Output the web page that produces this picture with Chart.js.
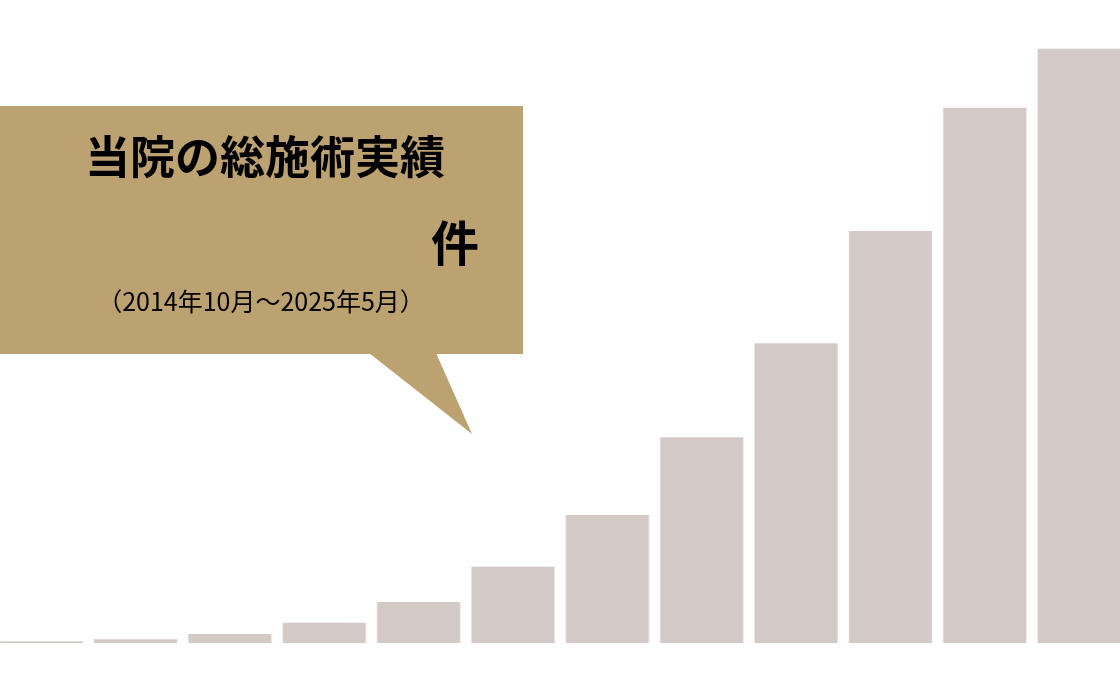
<!DOCTYPE html>
<html lang="ja">
<head>
<meta charset="utf-8">
<script src="https://cdn.jsdelivr.net/npm/chart.js@4.4.1/dist/chart.umd.min.js"></script>
<style>
  html, body { margin: 0; padding: 0; background: #fff; overflow: hidden; }
  body { width: 1120px; height: 690px; position: relative; font-family: "Noto Sans CJK JP", "Noto Sans", sans-serif; }
  #wrap { position: absolute; left: -5.6px; top: 0; width: 1131.3px; height: 690px; }
  #bubble { position: absolute; left: 0; top: 106px; width: 523px; height: 248px; background: #bca171; }
  #tail { position: absolute; left: 0; top: 0; }
  .t { position: absolute; color: #000; white-space: nowrap; line-height: 1; }
  #title { left: 0; width: 530px; top: 132px; text-align: center; font-size: 45px; font-weight: bold; }
  #unit { left: 431px; top: 216px; font-size: 48px; font-weight: bold; }
  #period { left: 0; width: 522px; top: 288px; text-align: center; font-size: 25px; }
</style>
</head>
<body>
<div id="wrap"><canvas id="barChart"></canvas></div>
<div id="bubble"></div>
<svg id="tail" width="1120" height="690"><polygon points="369,353 436,353 472,434" fill="#bca171"/></svg>
<div class="t" id="title">当院の総施術実績</div>
<div class="t" id="unit">件</div>
<div class="t" id="period">（2014年10月～2025年5月）</div>
<script>
// 年別の施術件数 (y軸は非表示なので相対値)
const years = ['2014', '2015', '2016', '2017', '2018', '2019', '2020', '2021', '2022', '2023', '2024', '2025'];
const counts = [20, 40, 93, 206, 413, 766, 1283, 2060, 3000, 4123, 5356, 5946];
const yMax = 6433;

const ctxBar = document.getElementById('barChart').getContext('2d');
new Chart(ctxBar, {
    type: 'bar',
    data: {
        labels: years,
        datasets: [{
            data: counts,
            backgroundColor: '#d3cac7',
            borderWidth: 0,
            categoryPercentage: 1,
            barPercentage: 0.8805
        }]
    },
    options: {
        responsive: true,
        maintainAspectRatio: false,
        animation: false,
        layout: { padding: { top: 0, bottom: 46.7, left: 0, right: 0 } },
        scales: {
            x: { display: false },
            y: { display: false, min: 0, max: yMax }
        },
        plugins: { legend: { display: false }, tooltip: { enabled: false } }
    }
});
</script>
</body>
</html>
